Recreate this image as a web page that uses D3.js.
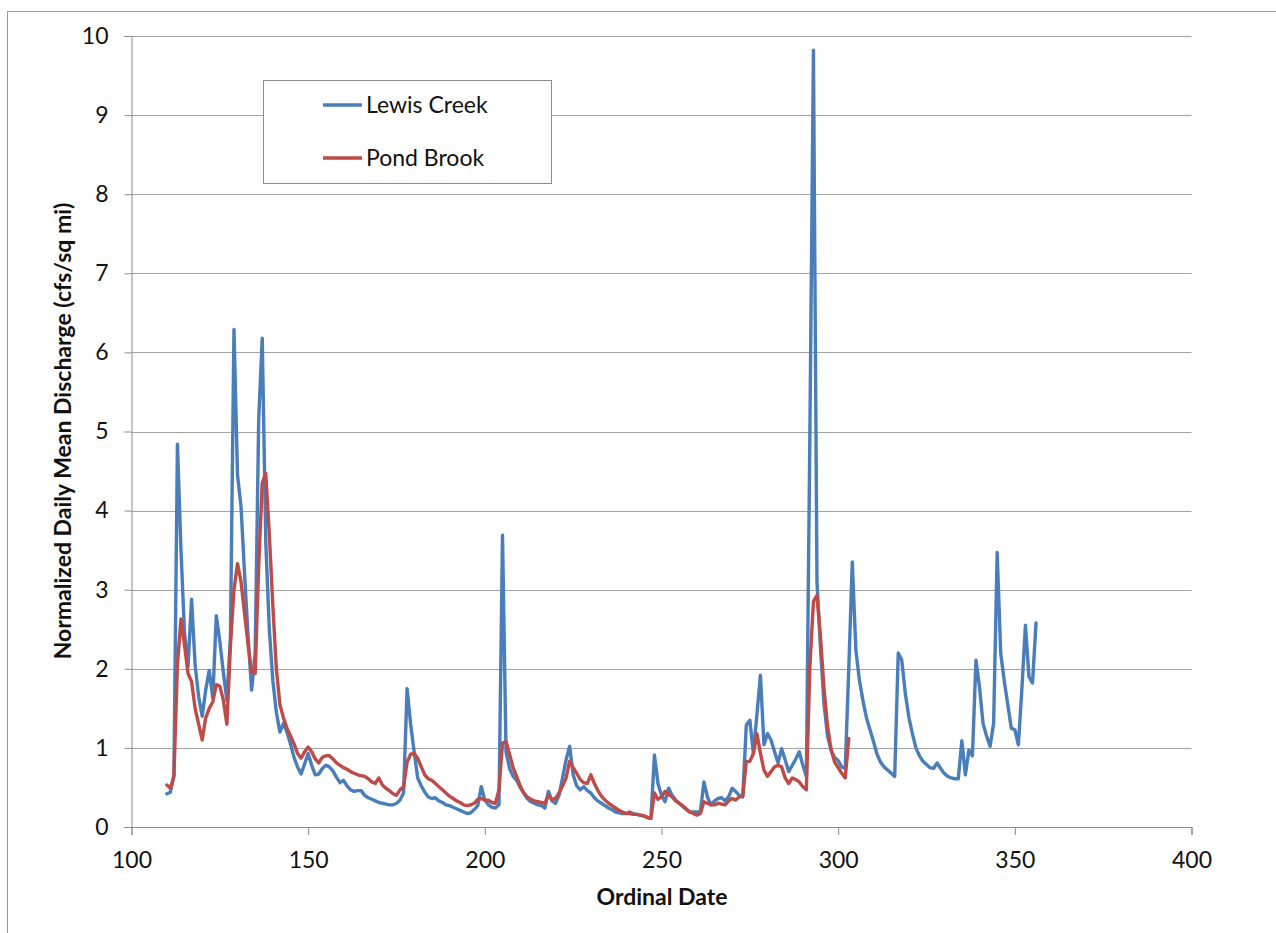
<!DOCTYPE html>
<html>
<head>
<meta charset="utf-8">
<script src="https://cdn.jsdelivr.net/npm/d3@7/dist/d3.min.js"></script>
<style>
  html, body { margin: 0; padding: 0; background: #fff; }
  svg { display: block; font-family: Lato, "Liberation Sans", sans-serif; }
</style>
</head>
<body>
<svg id="chart" width="1276" height="933"></svg>
<script>
// Normalized daily mean discharge (cfs/sq mi), one value per ordinal day
const lewisStart = 110;
const lewisValues = [
  0.42, 0.44, 0.65, 4.84, 3.5, 2.45, 2.03, 2.88, 2.05, 1.65,        // 110-119
  1.40, 1.73, 1.98, 1.63, 2.67, 2.35, 1.95, 1.60, 2.4, 6.29,        // 120-129
  4.45, 4.05, 3.2, 2.4, 1.73, 2.2, 5.15, 6.18, 3.6, 2.5,            // 130-139
  1.85, 1.45, 1.2, 1.31, 1.2, 1.05, 0.88, 0.76, 0.67, 0.80,         // 140-149
  0.93, 0.78, 0.66, 0.67, 0.74, 0.78, 0.76, 0.71, 0.63, 0.56,       // 150-159
  0.59, 0.52, 0.47, 0.45, 0.46, 0.46, 0.40, 0.37, 0.35, 0.33,       // 160-169
  0.31, 0.30, 0.29, 0.28, 0.28, 0.30, 0.34, 0.43, 1.75, 1.30,       // 170-179
  0.95, 0.62, 0.52, 0.44, 0.38, 0.36, 0.37, 0.33, 0.31, 0.28,       // 180-189
  0.27, 0.25, 0.23, 0.21, 0.19, 0.17, 0.18, 0.22, 0.27, 0.51,       // 190-199
  0.34, 0.28, 0.25, 0.24, 0.28, 3.69, 0.95, 0.74, 0.64, 0.59,       // 200-209
  0.50, 0.43, 0.36, 0.32, 0.30, 0.28, 0.27, 0.24, 0.45, 0.33,       // 210-219
  0.30, 0.40, 0.62, 0.85, 1.02, 0.66, 0.52, 0.47, 0.51, 0.46,       // 220-229
  0.43, 0.37, 0.33, 0.30, 0.27, 0.24, 0.22, 0.19, 0.18, 0.17,       // 230-239
  0.17, 0.19, 0.17, 0.16, 0.15, 0.14, 0.12, 0.11, 0.91, 0.55,       // 240-249
  0.40, 0.32, 0.49, 0.40, 0.34, 0.30, 0.26, 0.22, 0.19, 0.19,       // 250-259
  0.19, 0.19, 0.57, 0.38, 0.28, 0.33, 0.36, 0.37, 0.33, 0.38,       // 260-269
  0.49, 0.45, 0.40, 0.38, 1.29, 1.35, 0.93, 1.42, 1.92, 1.04,       // 270-279
  1.18, 1.10, 0.95, 0.81, 0.99, 0.85, 0.70, 0.78, 0.86, 0.95,       // 280-289
  0.78, 0.64, 5.0, 9.82, 3.1, 2.26, 1.55, 1.15, 0.97, 0.88,         // 290-299
  0.84, 0.76, 0.74, 2.0, 3.35, 2.24, 1.86, 1.6, 1.38, 1.23,         // 300-309
  1.08, 0.92, 0.82, 0.76, 0.72, 0.68, 0.64, 2.20, 2.11, 1.69,       // 310-319
  1.39, 1.18, 1.00, 0.90, 0.83, 0.79, 0.75, 0.74, 0.81, 0.74,       // 320-329
  0.68, 0.64, 0.62, 0.61, 0.61, 1.09, 0.66, 0.97, 0.90, 2.11,       // 330-339
  1.77, 1.31, 1.15, 1.02, 1.31, 3.47, 2.20, 1.85, 1.55, 1.25,       // 340-349
  1.23, 1.04, 1.75, 2.55, 1.90, 1.82, 2.58                          // 350-356
];

const pondStart = 110;
const pondValues = [
  0.53, 0.49, 0.64, 2.05, 2.63, 2.3, 1.94, 1.84, 1.5, 1.3,          // 110-119
  1.10, 1.38, 1.5, 1.58, 1.80, 1.78, 1.6, 1.30, 2.3, 3.0,           // 120-129
  3.33, 3.1, 2.7, 2.3, 1.96, 1.94, 3.3, 4.35, 4.47, 3.7,            // 130-139
  2.8, 2.0, 1.55, 1.38, 1.25, 1.15, 1.05, 0.93, 0.87, 0.95,         // 140-149
  1.01, 0.95, 0.86, 0.81, 0.88, 0.90, 0.90, 0.86, 0.81, 0.78,       // 150-159
  0.75, 0.73, 0.70, 0.68, 0.66, 0.65, 0.64, 0.61, 0.57, 0.55,       // 160-169
  0.62, 0.53, 0.49, 0.46, 0.42, 0.40, 0.47, 0.51, 0.82, 0.92,       // 170-179
  0.93, 0.87, 0.76, 0.66, 0.61, 0.59, 0.55, 0.51, 0.47, 0.43,       // 180-189
  0.39, 0.36, 0.33, 0.31, 0.28, 0.27, 0.28, 0.30, 0.35, 0.36,       // 190-199
  0.34, 0.34, 0.31, 0.30, 0.47, 1.06, 1.08, 0.92, 0.75, 0.64,       // 200-209
  0.52, 0.43, 0.38, 0.35, 0.33, 0.32, 0.31, 0.30, 0.40, 0.35,       // 210-219
  0.36, 0.43, 0.52, 0.62, 0.83, 0.75, 0.68, 0.60, 0.56, 0.55,       // 220-229
  0.66, 0.55, 0.46, 0.39, 0.34, 0.30, 0.27, 0.24, 0.21, 0.19,       // 230-239
  0.17, 0.17, 0.16, 0.16, 0.15, 0.14, 0.12, 0.11, 0.43, 0.35,       // 240-249
  0.38, 0.45, 0.41, 0.38, 0.33, 0.30, 0.27, 0.23, 0.19, 0.17,       // 250-259
  0.15, 0.17, 0.32, 0.30, 0.28, 0.28, 0.30, 0.29, 0.28, 0.33,       // 260-269
  0.36, 0.34, 0.38, 0.39, 0.83, 0.83, 0.93, 1.18, 0.93, 0.72,       // 270-279
  0.64, 0.70, 0.76, 0.78, 0.76, 0.62, 0.55, 0.62, 0.60, 0.57,       // 280-289
  0.51, 0.47, 2.03, 2.85, 2.93, 2.4, 1.75, 1.27, 0.98, 0.82,        // 290-299
  0.75, 0.68, 0.62, 1.12                                            // 300-303
];

const xTicks = [100, 150, 200, 250, 300, 350, 400];
const yTicks = [0, 1, 2, 3, 4, 5, 6, 7, 8, 9, 10];
const seriesNames = ["Lewis Creek", "Pond Brook"];
const seriesColors = ["#4a7ebb", "#be4b48"];

const svg = d3.select("#chart");
const plot = { left: 131.5, right: 1191.5, top: 36, bottom: 827 };

const x = d3.scaleLinear().domain([100, 400]).range([plot.left, plot.right]);
const y = d3.scaleLinear().domain([0, 10]).range([plot.bottom, plot.top]);

// chart frame
svg.append("rect")
  .attr("x", 7.5).attr("y", 11.5)
  .attr("width", 1400).attr("height", 1000)
  .attr("fill", "#fff")
  .attr("stroke", "#9a9a9a").attr("stroke-width", 1);

// horizontal gridlines
svg.append("g")
  .selectAll("line")
  .data(yTicks.filter(d => d > 0))
  .join("line")
  .attr("x1", plot.left).attr("x2", plot.right)
  .attr("y1", d => Math.round(y(d)) + 0.5).attr("y2", d => Math.round(y(d)) + 0.5)
  .attr("stroke", "#a3a3a3").attr("stroke-width", 1);

// y axis
const yAxis = svg.append("g")
  .attr("transform", `translate(${plot.left},0)`)
  .call(d3.axisLeft(y).tickValues(yTicks).tickSize(7).tickPadding(16).tickFormat(d3.format("d")));
yAxis.select(".domain").attr("stroke", "#8c8c8c");
yAxis.selectAll(".tick line").attr("stroke", "#8c8c8c");
yAxis.selectAll("text").attr("font-size", 23).attr("fill", "#111").attr("font-family", "Lato, sans-serif");

// x axis
const xAxis = svg.append("g")
  .attr("transform", `translate(0,${plot.bottom})`)
  .call(d3.axisBottom(x).tickValues(xTicks).tickSize(8).tickPadding(17).tickFormat(d3.format("d")));
xAxis.select(".domain").attr("stroke", "#8c8c8c");
xAxis.selectAll(".tick line").attr("stroke", "#8c8c8c");
xAxis.selectAll("text").attr("font-size", 23).attr("fill", "#111").attr("font-family", "Lato, sans-serif");

// axis titles
svg.append("text")
  .attr("x", 662).attr("y", 905)
  .attr("text-anchor", "middle")
  .attr("font-size", 23).attr("font-weight", "bold").attr("fill", "#111")
  .text("Ordinal Date");

svg.append("text")
  .attr("transform", "translate(71,431) rotate(-90)")
  .attr("text-anchor", "middle")
  .attr("font-size", 23).attr("font-weight", "bold").attr("fill", "#111")
  .text("Normalized Daily Mean Discharge (cfs/sq mi)");

// series lines
const line = d3.line()
  .x(d => x(d.day))
  .y(d => y(d.value));

const series = [
  { name: seriesNames[0], color: seriesColors[0], points: lewisValues.map((v, i) => ({ day: lewisStart + i, value: v })) },
  { name: seriesNames[1], color: seriesColors[1], points: pondValues.map((v, i) => ({ day: pondStart + i, value: v })) }
];

svg.append("g")
  .selectAll("path")
  .data(series)
  .join("path")
  .attr("d", d => line(d.points))
  .attr("fill", "none")
  .attr("stroke", d => d.color)
  .attr("stroke-width", 3.4)
  .attr("stroke-linejoin", "round")
  .attr("stroke-linecap", "round");

// legend
const legend = svg.append("g");
legend.append("rect")
  .attr("x", 263.5).attr("y", 80.5)
  .attr("width", 288).attr("height", 103)
  .attr("fill", "#fff").attr("stroke", "#8c8c8c").attr("stroke-width", 1);

const items = legend.selectAll("g.item")
  .data(series)
  .join("g")
  .attr("class", "item")
  .attr("transform", (d, i) => `translate(0,${105 + i * 53})`);
items.append("line")
  .attr("x1", 323).attr("x2", 362)
  .attr("stroke", d => d.color).attr("stroke-width", 3.4);
items.append("text")
  .attr("x", 366).attr("dy", "0.35em")
  .attr("font-size", 23).attr("fill", "#111")
  .text(d => d.name);
</script>
</body>
</html>
